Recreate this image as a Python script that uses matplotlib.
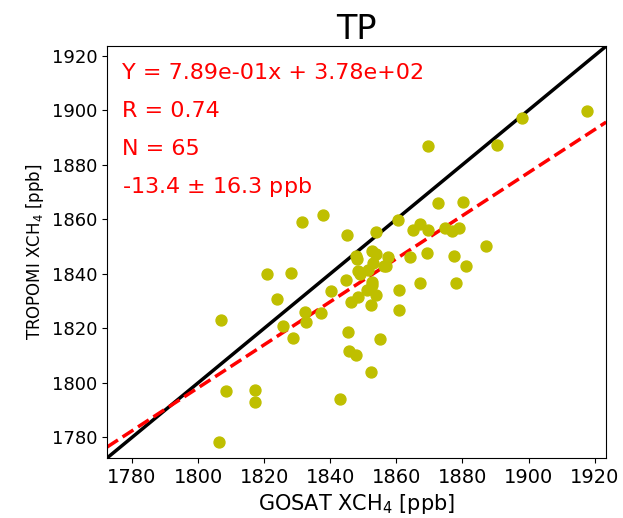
import numpy as np
import matplotlib
matplotlib.use("Agg")
import matplotlib.pyplot as plt

# GOSAT vs TROPOMI XCH4 collocations (ppb)
gosat = [1917.7, 1898.1, 1890.5, 1869.7, 1872.5, 1880.2, 1860.5, 1845.1, 1853.8, 1865.1,
         1867.1, 1869.6, 1874.6, 1876.9, 1879.0, 1887.0, 1847.9, 1848.2, 1852.7, 1853.7,
         1857.4, 1864.1, 1869.3, 1877.4, 1881.2, 1852.8, 1856.2, 1857.0, 1848.4, 1848.9,
         1851.5, 1844.8, 1852.7, 1852.7, 1851.2, 1853.8, 1848.4, 1846.3, 1852.3, 1860.8,
         1860.8, 1867.1, 1878.2, 1845.4, 1845.6, 1847.9, 1855.2, 1852.2, 1843.0, 1840.1,
         1832.5, 1832.8, 1837.2, 1831.5, 1837.7, 1820.8, 1828.1, 1823.8, 1806.9, 1825.6,
         1828.6, 1808.6, 1817.1, 1817.1, 1806.4]
tropomi = [1899.7, 1897.3, 1887.3, 1886.7, 1865.8, 1866.3, 1859.7, 1854.2, 1855.2, 1856.2,
           1858.1, 1856.2, 1856.9, 1855.8, 1856.9, 1850.1, 1846.7, 1845.4, 1848.2, 1847.4,
           1846.3, 1846.0, 1847.7, 1846.4, 1842.9, 1844.1, 1843.0, 1842.7, 1840.9, 1839.8,
           1841.5, 1837.7, 1837.1, 1835.9, 1834.2, 1832.3, 1831.6, 1829.5, 1828.4, 1833.9,
           1826.7, 1836.5, 1836.5, 1818.7, 1811.8, 1810.3, 1816.2, 1804.0, 1794.2, 1833.8,
           1825.9, 1822.4, 1825.7, 1859.0, 1861.6, 1840.1, 1840.2, 1830.7, 1823.1, 1820.7,
           1816.3, 1797.2, 1797.4, 1793.1, 1778.5]

# Regression and summary statistics shown on the panel
slope = 7.89e-01
intercept = 3.78e+02
r_value = 0.74
n_points = 65
bias_mean = -13.4
bias_std = 16.3

lims = (1772.5, 1923.5)
ticks = [1780, 1800, 1820, 1840, 1860, 1880, 1900, 1920]

fig = plt.figure(figsize=(6.23, 5.18), dpi=100)
ax = fig.add_axes([0.172, 0.116, 0.801, 0.795])

ax.scatter(gosat, tropomi, s=62, color='y', zorder=3)

xx = np.array(lims)
ax.plot(xx, xx, color='black', lw=2.5, zorder=2)
ax.plot(xx, slope * xx + intercept, color='red', lw=2.5, ls='--', zorder=2)

ax.set_xlim(lims)
ax.set_ylim(lims)
ax.set_xticks(ticks)
ax.set_yticks(ticks)
ax.tick_params(axis='x', labelsize=14)
ax.tick_params(axis='y', labelsize=13)

ax.set_xlabel(r'GOSAT XCH$_4$ [ppb]', fontsize=15)
ax.set_ylabel(r'TROPOMI XCH$_4$ [ppb]', fontsize=12)
ax.set_title('TP', fontsize=24, pad=5)

lines = [f'Y = {slope:.2e}x + {intercept:.2e}',
         f'R = {r_value:.2f}',
         f'N = {n_points}',
         f'{bias_mean:.1f} $\\pm$ {bias_std:.1f} ppb']
for i, txt in enumerate(lines):
    ax.text(0.03, 0.934 - 0.092 * i, txt, transform=ax.transAxes,
            color='red', fontsize=16, va='center', ha='left')

fig.savefig('out.png', dpi=100)
